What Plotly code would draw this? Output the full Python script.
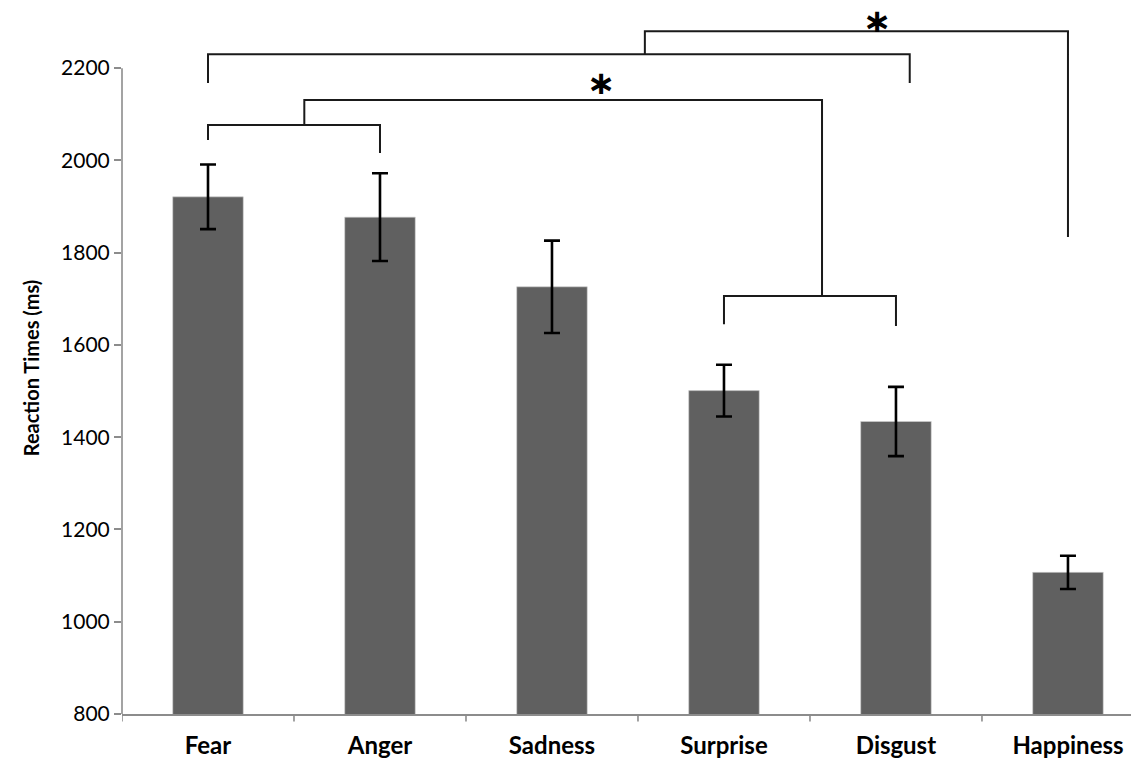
import plotly.graph_objects as go

categories = ["Fear", "Anger", "Sadness", "Surprise", "Disgust", "Happiness"]
reaction_ms = [1921, 1877, 1726, 1501, 1434, 1107]
error_ms = [70, 95, 100, 56, 75, 36]
y_ticks = [800, 1000, 1200, 1400, 1600, 1800, 2000, 2200]

# significance brackets: (x points in category units, y points in ms)
brackets = [
    ([0, 0, 1, 1], [2044, 2077, 2077, 2016]),            # Fear-Anger
    ([3, 3, 4, 4], [1645, 1706, 1706, 1641]),            # Surprise-Disgust
    ([0.56, 0.56, 3.57, 3.57], [2077, 2131, 2131, 1706]),  # link
    ([0, 0, 4.08, 4.08], [2168, 2230, 2230, 2168]),      # Fear-Disgust
    ([2.54, 2.54, 5.0, 5.0], [2230, 2280, 2280, 1834]),  # link to Happiness
]
stars = [(2.285, 2168), (3.895, 2303)]

FONT = "Lato"
Y_RANGE = [800, 2300]
PLOT_H = 692  # px height of plot area
px_per_ms = PLOT_H / (Y_RANGE[1] - Y_RANGE[0])

fig = go.Figure()
fig.add_trace(go.Bar(
    x=list(range(len(categories))),
    y=reaction_ms,
    base=0,
    width=0.41,
    marker=dict(color="#606060", line=dict(color="#d0d0d0", width=0.6)),
    error_y=dict(type="data", array=error_ms, visible=True,
                 color="black", thickness=2.6, width=8),
    showlegend=False,
))

for xs, ys in brackets:
    fig.add_trace(go.Scatter(x=xs, y=ys, mode="lines",
                             line=dict(color="#1a1a1a", width=2),
                             hoverinfo="skip", showlegend=False, cliponaxis=False))

for sx, sy in stars:
    anchor_y = min(sy, Y_RANGE[1] - 10)
    fig.add_annotation(x=sx, y=anchor_y, yshift=(sy - anchor_y) * px_per_ms,
                       text="<b>\u2217</b>", showarrow=False,
                       font=dict(family="DejaVu Sans", size=34, color="black"),
                       height=22, valign="middle", borderpad=0,
                       xanchor="center", yanchor="middle")

# y axis line from 800 to 2200 only
fig.add_shape(type="line", xref="paper", yref="y", x0=0, x1=0,
              y0=y_ticks[0], y1=y_ticks[-1],
              line=dict(color="#8c8c8c", width=1.6))

fig.update_layout(
    width=1131, height=753,
    margin=dict(l=114, r=0, t=14, b=47),
    plot_bgcolor="white", paper_bgcolor="white",
    xaxis=dict(
        range=[-0.5, 5.413],
        tickmode="array",
        tickvals=list(range(len(categories))),
        ticktext=[f"<b>{c}</b>" for c in categories],
        showline=True, linecolor="#8c8c8c", linewidth=1.6,
        ticks="", showgrid=False, zeroline=False,
        ticklabelstandoff=9,
        automargin=False,
        tickfont=dict(family=FONT, size=24, color="black"),
    ),
    yaxis=dict(
        range=Y_RANGE,
        tickmode="array", tickvals=y_ticks,
        ticks="outside", ticklen=7, tickcolor="#8c8c8c", tickwidth=1.6,
        showline=False, showgrid=False, zeroline=False,
        automargin=False,
        tickfont=dict(family=FONT, size=21, color="black"),
        title=dict(text="<b>Reaction Times (ms)</b>", standoff=16,
                   font=dict(family=FONT, size=20, color="black")),
    ),
)

# category boundary ticks on x axis
for b in [i - 0.5 for i in range(len(categories) + 1)]:
    fig.add_shape(type="line", xref="x", yref="paper", x0=b, x1=b, y0=0, y1=-0.011,
                  line=dict(color="#8c8c8c", width=1.6))

fig.write_html("out.html")
